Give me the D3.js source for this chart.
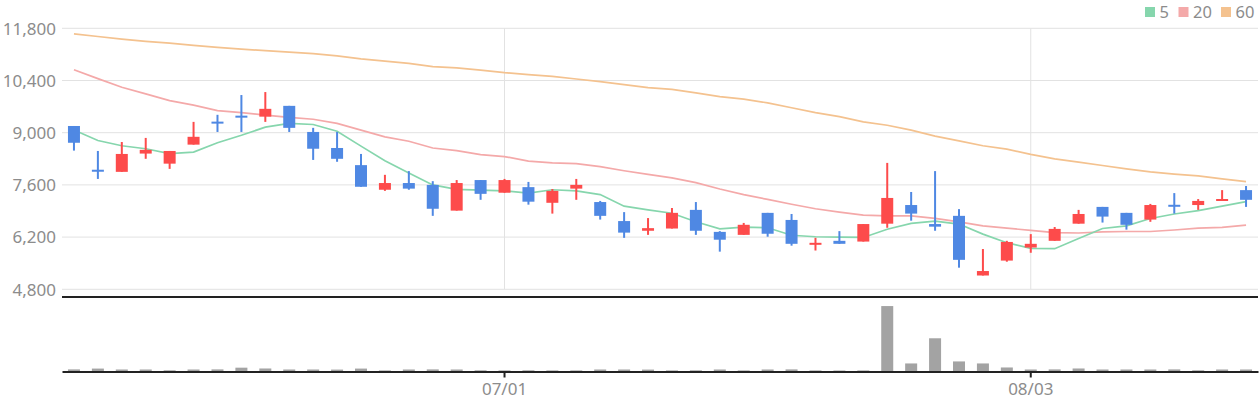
<!DOCTYPE html>
<html>
<head>
<meta charset="utf-8">
<script src="https://cdn.jsdelivr.net/npm/d3@7"></script>
<style>
  html, body { margin: 0; padding: 0; background: #fff; }
  svg { display: block; font-family: "Noto Sans", sans-serif; }
</style>
</head>
<body>
<svg id="chart" width="1260" height="400"></svg>
<script>
// ---------- DATA ----------
const dates = [
  "06/05","06/08","06/09","06/10","06/11","06/12","06/15","06/16","06/17","06/18",
  "06/19","06/22","06/23","06/24","06/25","06/26","06/29","06/30",
  "07/01","07/02","07/03","07/06","07/07","07/08","07/09","07/10","07/13","07/14",
  "07/15","07/16","07/17","07/21","07/22","07/23","07/24","07/27","07/28","07/29",
  "07/30","07/31",
  "08/03","08/04","08/05","08/06","08/07","08/10","08/11","08/12","08/13","08/14"
];
const openPrices  = [9180,7990,7950,8440,8170,8680,9280,9440,9430,9720,9020,8590,8130,7470,7650,7600,6910,7730,7390,7540,7120,7500,7140,6630,6370,6430,6930,6340,6260,6850,6660,6000,6100,6080,6560,7060,6550,6770,5170,5570,5920,6100,6560,7010,6850,6670,7060,7060,7170,7460];
const highPrices  = [9180,8510,8750,8860,8510,9290,9480,10010,10090,9720,9130,9020,8430,7870,7970,7700,7730,7730,7760,7680,7490,7760,7170,6870,6710,6980,7140,6360,6580,6850,6820,6180,6360,6550,8190,7410,7970,6950,5880,6100,6280,6470,6930,7010,6850,7090,7380,7220,7460,7570];
const lowPrices   = [8520,7760,7950,8300,8030,8680,9020,9020,9290,9020,8270,8220,7550,7440,7470,6770,6910,7200,7390,7070,6830,7200,6670,6180,6260,6430,6260,5810,6260,6210,5970,5840,6020,6080,6450,6640,6370,5380,5170,5540,5780,6100,6560,6590,6400,6610,6830,6930,7170,7010];
const closePrices = [8730,7970,8430,8540,8510,8890,9260,9420,9640,9130,8570,8300,7550,7650,7500,6960,7650,7360,7730,7150,7440,7600,6770,6320,6440,6850,6370,6130,6530,6290,6020,6040,6020,6550,7250,6830,6480,5590,5290,6070,6020,6420,6820,6750,6530,7060,7020,7170,7220,7200];
const volumes = [210000,290000,200000,200000,120000,200000,210000,380000,300000,200000,200000,190000,290000,110000,200000,210000,200000,120000,110000,120000,110000,110000,200000,200000,190000,110000,120000,200000,110000,200000,210000,110000,100000,110000,6500000,800000,3300000,1000000,800000,400000,200000,210000,300000,200000,200000,200000,210000,120000,200000,200000];
const ma5  = [9070,8790,8650,8570,8440,8480,8730,8930,9150,9250,9220,9040,8640,8250,7920,7600,7480,7460,7440,7380,7470,7440,7340,7030,6930,6840,6610,6420,6470,6450,6250,6210,6200,6190,6410,6570,6630,6550,6280,6050,5900,5890,6160,6430,6500,6700,6820,6910,7030,7150];
const ma20 = [10690,10450,10220,10040,9860,9740,9590,9540,9470,9410,9360,9250,9070,8890,8770,8590,8520,8410,8360,8240,8190,8170,8090,7980,7880,7790,7660,7490,7340,7210,7080,6960,6870,6790,6770,6770,6700,6610,6500,6440,6380,6320,6310,6340,6350,6350,6390,6440,6460,6520];
const ma60 = [11650,11580,11510,11450,11400,11340,11290,11240,11200,11160,11120,11060,10980,10920,10860,10770,10740,10680,10610,10560,10510,10440,10370,10290,10210,10160,10070,9970,9900,9800,9670,9540,9430,9290,9200,9070,8910,8780,8650,8560,8420,8300,8210,8120,8030,7950,7890,7840,7760,7690];
const priceTicks = [4800, 6200, 7600, 9000, 10400, 11800];
const dateTicks = ["07/01", "08/03"];
const maLabels = ["5", "20", "60"];

// ---------- STYLE ----------
const colors = { up: "#fd4b4b", down: "#4f88e3", ma5: "#86d6ad", ma20: "#f4a9a9", ma60: "#f4c28f",
                 grid: "#e2e2e2", text: "#8c8c8c", vol: "#a3a3a3", axis: "#222" };
const maColors = [colors.ma5, colors.ma20, colors.ma60];

const svg = d3.select("#chart");
const left = 62, right = 1258;
const priceTop = 28.3, priceBottom = 289.3;
const volTop = 297, volBottom = 371.5;

const x = d3.scaleBand().domain(dates).range([left, right]).padding(0);
const cx = d => x(d) + x.bandwidth() / 2;
const y = d3.scaleLinear().domain([4800, 11800]).range([priceBottom, priceTop]);
const yv = d3.scaleLinear().domain([0, 7400000]).range([volBottom, volTop]);

const rows = dates.map((d, i) => ({
  date: d, o: openPrices[i], h: highPrices[i], l: lowPrices[i], c: closePrices[i], v: volumes[i]
}));

// grid
const g = svg.append("g");
g.selectAll("line.hgrid").data(priceTicks).join("line")
  .attr("x1", left).attr("x2", right)
  .attr("y1", d => y(d)).attr("y2", d => y(d))
  .attr("stroke", colors.grid).attr("stroke-width", 1);
g.selectAll("line.vgrid").data(dateTicks).join("line")
  .attr("x1", d => cx(d)).attr("x2", d => cx(d))
  .attr("y1", y(11800)).attr("y2", y(4800))
  .attr("stroke", colors.grid).attr("stroke-width", 1);

// y axis labels
const yAxis = d3.axisLeft(y).tickValues(priceTicks).tickSize(0).tickPadding(0).tickFormat(d3.format(","));
const ya = svg.append("g").attr("transform", `translate(${left - 6},0)`).call(yAxis);
ya.select(".domain").remove();
ya.selectAll("text").attr("fill", colors.text).style("font-size", "17px")
  .style("font-family", "'Noto Sans', sans-serif").attr("dy", "0.34em");

// MA lines
const line = arr => d3.line().x((d, i) => cx(dates[i])).y(d => y(d))(arr);
[ma60, ma20, ma5].forEach((arr, k) => {
  svg.append("path").attr("d", line(arr)).attr("fill", "none")
    .attr("stroke", [colors.ma60, colors.ma20, colors.ma5][k]).attr("stroke-width", 1.7);
});

// candles
const bodyW = 12, wickW = 2;
const cg = svg.append("g");
cg.selectAll("rect.wick").data(rows).join("rect")
  .attr("x", d => cx(d.date) - wickW / 2).attr("width", wickW)
  .attr("y", d => y(d.h)).attr("height", d => Math.max(1, y(d.l) - y(d.h)))
  .attr("fill", d => d.c >= d.o ? colors.up : colors.down);
cg.selectAll("rect.body").data(rows).join("rect")
  .attr("x", d => cx(d.date) - bodyW / 2).attr("width", bodyW)
  .attr("y", d => {
    const t = y(Math.max(d.o, d.c)), b = y(Math.min(d.o, d.c));
    return b - t < 2 ? (t + b) / 2 - 1 : t;
  })
  .attr("height", d => Math.max(2, y(Math.min(d.o, d.c)) - y(Math.max(d.o, d.c))))
  .attr("fill", d => d.c >= d.o ? colors.up : colors.down);

// volume
svg.append("g").selectAll("rect").data(rows).join("rect")
  .attr("x", d => cx(d.date) - 6).attr("width", 12)
  .attr("y", d => yv(d.v)).attr("height", d => volBottom - yv(d.v))
  .attr("fill", colors.vol);

// panel separator line
svg.append("line").attr("x1", left).attr("x2", right).attr("y1", volTop).attr("y2", volTop)
  .attr("stroke", colors.axis).attr("stroke-width", 2);

// x axis
const xAxis = d3.axisBottom(x).tickValues(dateTicks).tickSize(6).tickSizeOuter(0).tickPadding(5);
const xa = svg.append("g").attr("transform", `translate(0,${volBottom})`).call(xAxis);
xa.select(".domain").attr("stroke", colors.axis).attr("stroke-width", 2);
xa.selectAll(".tick line").attr("stroke", colors.axis).attr("stroke-width", 2);
xa.selectAll("text").attr("fill", colors.text).style("font-size", "17px")
  .style("font-family", "'Noto Sans', sans-serif");

// legend
const legendX = [1145, 1178.5, 1221];
const lg = svg.append("g");
maLabels.forEach((lab, i) => {
  lg.append("rect").attr("x", legendX[i]).attr("y", 7).attr("width", 10).attr("height", 10)
    .attr("fill", maColors[i]);
  lg.append("text").attr("x", legendX[i] + 14.5).attr("y", 17.8).text(lab)
    .attr("fill", colors.text).style("font-size", "16.5px");
});
</script>
</body>
</html>
